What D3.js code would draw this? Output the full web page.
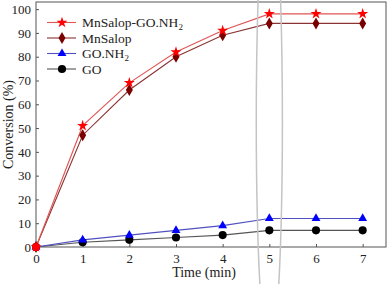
<!DOCTYPE html>
<html>
<head>
<meta charset="utf-8">
<script src="https://cdn.jsdelivr.net/npm/d3@7"></script>
<style>
  body { margin: 0; background: #fff; }
  svg text { font-family: "Liberation Serif", "Times New Roman", serif; fill: #222; }
</style>
</head>
<body>
<div id="chart"></div>
<script>
// data
var times = [0, 1, 2, 3, 4, 5, 6, 7];
var mnSalopGO = [0, 51, 69, 82, 91, 98, 98, 98];
var mnSalop = [0, 47, 66, 80, 89, 94, 94, 94];
var goNH2 = [0, 3, 5, 7, 9, 12, 12, 12];
var go = [0, 2, 3, 4, 5, 7, 7, 7];
var xTicks = [0, 1, 2, 3, 4, 5, 6, 7];
var yTicks = [0, 10, 20, 30, 40, 50, 60, 70, 80, 90, 100];

var svgWidth = 390;
var svgHeight = 284;
var margin = {top: 2, right: 4, bottom: 37, left: 36};
var width = svgWidth - margin.left - margin.right;
var height = svgHeight - margin.top - margin.bottom;

var svg = d3.select('#chart')
  .append('svg')
  .attr('width', svgWidth)
  .attr('height', svgHeight);
var chart = svg.append('g')
  .attr('transform', 'translate(' + margin.left + ',' + margin.top + ')');

var x = d3.scaleLinear().domain([0, 7.5]).range([0, width]);
var y = d3.scaleLinear().domain([0, 103]).range([height, 0]);

// axes with inward ticks
var xAxis = chart.append('g')
  .attr('transform', 'translate(0,' + height + ')')
  .call(d3.axisBottom(x).tickValues(xTicks).tickSizeInner(-3).tickSizeOuter(0).tickPadding(7));
var yAxis = chart.append('g')
  .call(d3.axisLeft(y).tickValues(yTicks).tickSizeInner(-3).tickSizeOuter(0).tickPadding(5));
[xAxis, yAxis].forEach(function(a) {
  a.attr('font-family', '"Liberation Serif", serif').attr('font-size', 13);
  a.select('.domain').remove();
  a.selectAll('line').attr('stroke', '#555');
  a.selectAll('text').attr('fill', '#222');
});

// frame
chart.append('rect')
  .attr('width', width).attr('height', height)
  .attr('fill', 'none').attr('stroke', '#555').attr('stroke-width', 1);

var series = [
  {name: 'MnSalop-GO.NH', sub: '2', values: mnSalopGO, line: '#e05555', fill: '#ff0000', symbol: d3.symbolStar, size: 38},
  {name: 'MnSalop', sub: '', values: mnSalop, line: '#8a3434', fill: '#7a0000', symbol: d3.symbolDiamond, size: 42},
  {name: 'GO.NH', sub: '2', values: goNH2, line: '#5050c0', fill: '#0000ff', symbol: d3.symbolTriangle, size: 34},
  {name: 'GO', sub: '', values: go, line: '#555555', fill: '#000000', symbol: d3.symbolCircle, size: 52}
];

var line = d3.line()
  .x(function(d, i) { return x(times[i]); })
  .y(function(d) { return y(d); });

// draw back to front
series.slice().reverse().forEach(function(s) {
  chart.append('path')
    .datum(s.values)
    .attr('d', line)
    .attr('fill', 'none')
    .attr('stroke', s.line)
    .attr('stroke-width', 1.1);
});
series.slice().reverse().forEach(function(s) {
  chart.selectAll(null)
    .data(s.values)
    .enter()
    .append('path')
    .attr('d', d3.symbol().type(s.symbol).size(s.size))
    .attr('transform', function(d, i) { return 'translate(' + x(times[i]) + ',' + y(d) + ')'; })
    .attr('fill', s.fill);
});
// red dot on origin
chart.append('circle').attr('cx', x(0)).attr('cy', y(0)).attr('r', 4).attr('fill', '#ff0000');

// highlight ellipse around t = 5
chart.append('ellipse')
  .attr('cx', x(5))
  .attr('cy', y(52.7))
  .attr('rx', x(5.28) - x(5))
  .attr('ry', y(3) - y(102.2))
  .attr('fill', 'none')
  .attr('stroke', '#c4c4c4')
  .attr('stroke-width', 1.5);

// legend
var legend = svg.append('g');
series.forEach(function(s, i) {
  var ly = 22.5 + i * 15.5;
  legend.append('line')
    .attr('x1', 47).attr('x2', 76).attr('y1', ly).attr('y2', ly)
    .attr('stroke', s.line).attr('stroke-width', 1.1);
  legend.append('path')
    .attr('d', d3.symbol().type(s.symbol).size(s.size))
    .attr('transform', 'translate(62,' + ly + ')')
    .attr('fill', s.fill);
  var t = legend.append('text')
    .attr('x', 82).attr('y', ly + 4.5)
    .style('font-size', '13.5px');
  t.append('tspan').text(s.name);
  if (s.sub) {
    t.append('tspan').attr('dy', 3).style('font-size', '9px').text(s.sub);
  }
});

// axis titles
svg.append('text')
  .attr('x', margin.left + x(3.6))
  .attr('y', 277)
  .attr('text-anchor', 'middle')
  .style('font-size', '14px')
  .text('Time (min)');
svg.append('text')
  .attr('transform', 'translate(13,' + (margin.top + height / 2) + ') rotate(-90)')
  .attr('text-anchor', 'middle')
  .style('font-size', '14px')
  .text('Conversion (%)');
</script>
</body>
</html>
